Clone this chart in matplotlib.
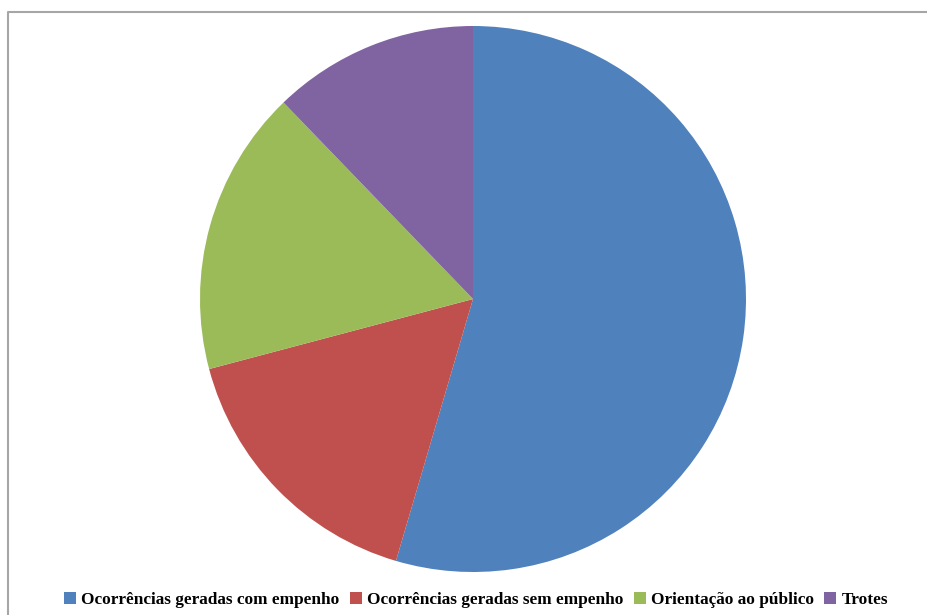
import matplotlib.pyplot as plt
from matplotlib.lines import Line2D

categories = ["Ocorrências geradas com empenho", "Ocorrências geradas sem empenho",
              "Orientação ao público", "Trotes"]
values = [54.5, 16.3, 16.9, 12.2]
colors = ["#4F81BD", "#C0504D", "#9BBB59", "#8064A2"]

fig = plt.figure(figsize=(9.27, 6.15), dpi=100)

# chart area border (only left/top visible in the crop)
x0 = 8 / 927
y0 = 1 - 12 / 615
fig.lines.append(Line2D([x0, x0, 1.0], [0.0, y0, y0], transform=fig.transFigure,
                        color="#A6A6A6", linewidth=1.5))

ax = fig.add_axes([200 / 927, 1 - 572 / 615, 546 / 927, 546 / 615])
wedges, _ = ax.pie(values, colors=colors, startangle=90, counterclock=False,
                   wedgeprops=dict(linewidth=0))
ax.set_xlim(-1, 1)
ax.set_ylim(-1, 1)
ax.set_aspect("equal")

fig.legend(wedges, categories, loc="center", bbox_to_anchor=(476 / 927, 1 - 600 / 615), ncol=4,
           frameon=False, handlelength=0.7, handleheight=0.7, handletextpad=0.3, columnspacing=0.6,
           prop=dict(family="Liberation Serif", weight="bold", size=12.4))

fig.savefig("out.png", dpi=100)
